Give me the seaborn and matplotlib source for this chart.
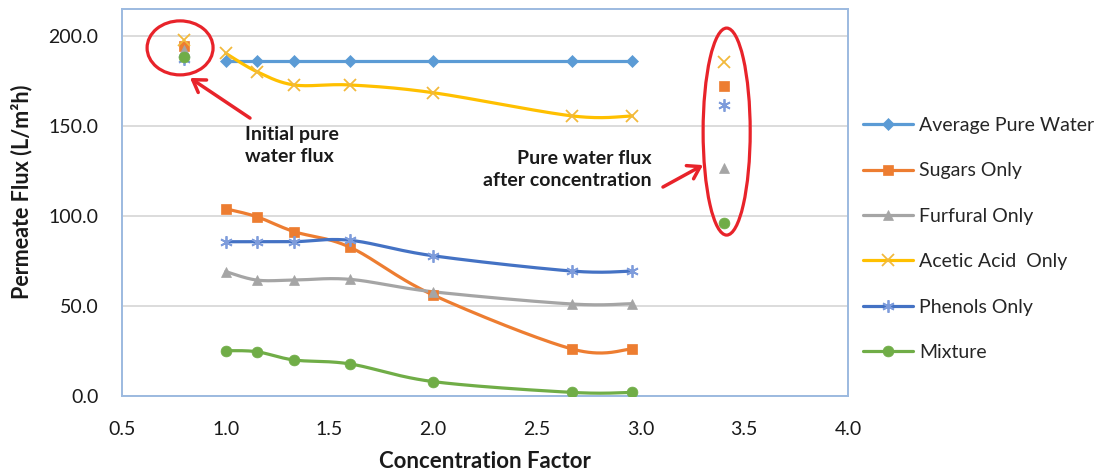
import numpy as np
import matplotlib
matplotlib.use("Agg")
import matplotlib.pyplot as plt
from matplotlib.lines import Line2D
from matplotlib.patches import Ellipse
import seaborn as sns

# Concentration factors of the sampling points
cf = [1.0, 1.15, 1.33, 1.6, 2.0, 2.67, 2.96]

# Permeate flux (L/m2h) per feed solution
avg_pure_water = [186.0, 186.0, 186.0, 186.0, 186.0, 186.0, 186.0]
sugars = [104.0, 99.6, 91.3, 82.6, 56.1, 26.1, 26.1]
furfural = [69.1, 64.4, 64.4, 64.8, 57.9, 51.1, 51.3]
acetic = [190.4, 180.2, 172.8, 172.8, 168.5, 155.6, 155.6]
phenols = [85.7, 85.7, 85.7, 86.5, 77.9, 69.4, 69.4]
mixture = [25.2, 24.6, 20.0, 17.8, 8.0, 2.0, 2.0]

# Pure water flux before (x = 0.8) and after (x = 3.4) each concentration run
initial_x = 0.8
initial_flux = {"sugars": 194.5, "furfural": 192.0, "acetic": 198.0,
                "phenols": 187.5, "mixture": 188.5}
final_x = 3.4
final_flux = {"sugars": 172.2, "furfural": 126.8, "acetic": 185.7,
              "phenols": 161.7, "mixture": 95.9}

labels = ["Average Pure Water", "Sugars Only", "Furfural Only",
          "Acetic Acid  Only", "Phenols Only", "Mixture"]
x_ticks = [0.5, 1.0, 1.5, 2.0, 2.5, 3.0, 3.5, 4.0]
y_ticks = [0, 50, 100, 150, 200]

sns.set_theme(style="white")
plt.rcParams["font.family"] = ["Lato", "DejaVu Sans"]

RED = "#E8232A"
TEXT = "#1a1a1a"
series = [
    # key, values, line colour, marker, marker colour, marker size, smoothed
    (None, avg_pure_water, "#5B9BD5", "D", "#5B9BD5", 6.5, False),
    ("sugars", sugars, "#ED7D31", "s", "#ED7D31", 7.8, True),
    ("furfural", furfural, "#A5A5A5", "^", "#A5A5A5", 7.8, True),
    ("acetic", acetic, "#FFC000", "x", "#F2B93B", 8.0, True),
    ("phenols", phenols, "#4472C4", (6, 2, 0), "#7E9CDB", 9.0, True),
    ("mixture", mixture, "#70AD47", "o", "#70AD47", 7.8, True),
]


def smooth_curve(xs, ys, n=40):
    """Bezier smoothing through every point (Catmull-Rom style tangents)."""
    pts = np.column_stack([xs, ys]).astype(float)
    out = []
    for i in range(len(pts) - 1):
        p0 = pts[max(i - 1, 0)]
        p1 = pts[i]
        p2 = pts[i + 1]
        p3 = pts[min(i + 2, len(pts) - 1)]
        c1 = p1 + (p2 - p0) / 6.0
        c2 = p2 - (p3 - p1) / 6.0
        t = np.linspace(0, 1, n)[:, None]
        seg = ((1 - t) ** 3) * p1 + 3 * ((1 - t) ** 2) * t * c1 \
            + 3 * (1 - t) * (t ** 2) * c2 + (t ** 3) * p2
        out.append(seg if i == 0 else seg[1:])
    return np.vstack(out)


fig = plt.figure(figsize=(11.04, 4.74), dpi=100)
ax = fig.add_axes([122 / 1104, 78 / 474, 726 / 1104, 387 / 474])

handles = []
for (key, vals, lc, mk, mc, ms, smooth), lab in zip(series, labels):
    if smooth:
        curve = smooth_curve(cf, vals)
    else:
        curve = np.column_stack([cf, vals])
    sns.lineplot(x=curve[:, 0], y=curve[:, 1], sort=False, estimator=None,
                 color=lc, linewidth=2.3, ax=ax, zorder=3)
    filled = mk not in ("x", (6, 2, 0))
    mstyle = dict(marker=mk, markersize=ms, markeredgecolor=mc,
                  markerfacecolor=mc if filled else "none",
                  markeredgewidth=0.5 if filled else 1.3)
    ax.plot(cf, vals, linestyle="none", zorder=4, **mstyle)
    if key is not None:
        ax.plot([initial_x], [initial_flux[key]], linestyle="none", zorder=4, **mstyle)
        ax.plot([final_x], [final_flux[key]], linestyle="none", zorder=4, **mstyle)
    handles.append(Line2D([0], [0], color=lc, linewidth=2.3, **mstyle))

# Axes styling
ax.set_xlim(0.5, 4.0)
ax.set_ylim(0, 215)
ax.set_xticks(x_ticks)
ax.set_xticklabels([f"{v:.1f}" for v in x_ticks])
ax.set_yticks(y_ticks)
ax.set_yticklabels([f"{v:.1f}" for v in y_ticks])
ax.tick_params(axis="both", length=0, labelsize=14, colors=TEXT)
ax.tick_params(axis="y", pad=17)
ax.tick_params(axis="x", pad=18)
ax.grid(axis="y", color="#D6D6D6", linewidth=1.2)
ax.grid(axis="x", visible=False)
for sp in ax.spines.values():
    sp.set_color("#9CBAE0")
    sp.set_linewidth(1.4)
    sp.set_visible(True)

ax.set_xlabel("Concentration Factor", fontsize=16, fontweight="bold", color=TEXT)
ax.xaxis.label.set_va("center")
ax.xaxis.set_label_coords(0.5, -0.168)
ax.set_ylabel("Permeate Flux (L/m²h)", fontsize=15.5, fontweight="bold", color=TEXT)
ax.yaxis.label.set_va("center")
ax.yaxis.set_label_coords(-0.138, 0.527)

# Red call-outs
ax.add_patch(Ellipse((0.78, 193.4), 0.318, 30, fill=False, edgecolor=RED,
                     linewidth=2.3, clip_on=False, zorder=6))
ax.add_patch(Ellipse((3.415, 146.9), 0.227, 115, fill=False, edgecolor=RED,
                     linewidth=2.3, clip_on=False, zorder=6))
arrow = dict(arrowstyle="->,head_length=0.7,head_width=0.45", color=RED, lw=2.5,
             shrinkA=0, shrinkB=0)
ax.annotate("", xy=(0.828, 176.7), xytext=(1.117, 154.4), arrowprops=arrow, zorder=6)
ax.annotate("", xy=(3.301, 128.3), xytext=(3.108, 116.1), arrowprops=arrow, zorder=6)
ax.text(1.093, 139.4, "Initial pure\nwater flux", fontsize=14, fontweight="bold",
        ha="left", va="center", linespacing=1.35, color=TEXT)
ax.text(3.051, 125.6, "Pure water flux\nafter concentration", fontsize=14,
        fontweight="bold", ha="right", va="center", multialignment="right",
        linespacing=1.35, color=TEXT)

fig.legend(handles, labels, loc="upper left", bbox_to_anchor=(863 / 1104, 1 - 117 / 474),
           frameon=False, fontsize=14, handlelength=2.58, handletextpad=0.3,
           labelspacing=1.46, borderpad=0, borderaxespad=0)

fig.savefig("out.png", dpi=100)
